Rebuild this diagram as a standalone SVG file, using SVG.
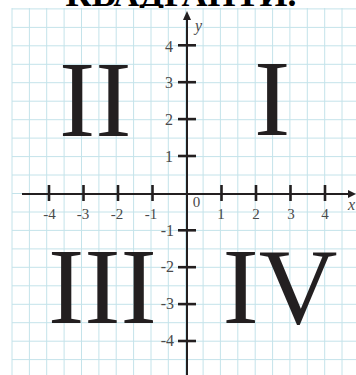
<svg xmlns="http://www.w3.org/2000/svg" width="356" height="375" viewBox="0 0 356 375">
<defs>
<style>
.grid line{stroke:#c4e3ea;stroke-width:1}
.axis{stroke:#231f20;stroke-width:2;fill:none}
.tick{stroke:#231f20;stroke-width:2.6}
.lbl{font-family:"Liberation Serif","Times New Roman",serif;font-size:15px;fill:#4a4a4a}
.ylbl{font-size:16px}
.var{font-family:"Liberation Serif","Times New Roman",serif;font-size:16px;font-style:italic;fill:#4a4a4a}
.quad{font-family:"Liberation Serif","Times New Roman",serif;font-size:109px;fill:#231f20}
.title{font-family:"Liberation Serif","Times New Roman",serif;font-size:36px;font-weight:bold;fill:#000}
</style>
<clipPath id="topclip"><rect x="0" y="0" width="356" height="8"/></clipPath>
</defs>
<rect width="356" height="375" fill="#fff"/>
<g id="grid" class="grid">
<line x1="12" y1="8" x2="12" y2="375"/><line x1="29.4" y1="8" x2="29.4" y2="375"/><line x1="46.7" y1="8" x2="46.7" y2="375"/><line x1="64.1" y1="8" x2="64.1" y2="375"/><line x1="81.5" y1="8" x2="81.5" y2="375"/><line x1="98.9" y1="8" x2="98.9" y2="375"/><line x1="116.2" y1="8" x2="116.2" y2="375"/><line x1="133.6" y1="8" x2="133.6" y2="375"/><line x1="151" y1="8" x2="151" y2="375"/><line x1="168.3" y1="8" x2="168.3" y2="375"/><line x1="185.7" y1="8" x2="185.7" y2="375"/><line x1="203.1" y1="8" x2="203.1" y2="375"/><line x1="220.4" y1="8" x2="220.4" y2="375"/><line x1="237.8" y1="8" x2="237.8" y2="375"/><line x1="255.2" y1="8" x2="255.2" y2="375"/><line x1="272.6" y1="8" x2="272.6" y2="375"/><line x1="289.9" y1="8" x2="289.9" y2="375"/><line x1="307.3" y1="8" x2="307.3" y2="375"/><line x1="324.7" y1="8" x2="324.7" y2="375"/><line x1="342" y1="8" x2="342" y2="375"/>
<line x1="12" y1="8.9" x2="356" y2="8.9"/><line x1="12" y1="27.4" x2="356" y2="27.4"/><line x1="12" y1="45.8" x2="356" y2="45.8"/><line x1="12" y1="64.3" x2="356" y2="64.3"/><line x1="12" y1="82.7" x2="356" y2="82.7"/><line x1="12" y1="101.2" x2="356" y2="101.2"/><line x1="12" y1="119.7" x2="356" y2="119.7"/><line x1="12" y1="138.1" x2="356" y2="138.1"/><line x1="12" y1="156.6" x2="356" y2="156.6"/><line x1="12" y1="175" x2="356" y2="175"/><line x1="12" y1="193.5" x2="356" y2="193.5"/><line x1="12" y1="212" x2="356" y2="212"/><line x1="12" y1="230.4" x2="356" y2="230.4"/><line x1="12" y1="248.9" x2="356" y2="248.9"/><line x1="12" y1="267.3" x2="356" y2="267.3"/><line x1="12" y1="285.8" x2="356" y2="285.8"/><line x1="12" y1="304.3" x2="356" y2="304.3"/><line x1="12" y1="322.7" x2="356" y2="322.7"/><line x1="12" y1="341.2" x2="356" y2="341.2"/><line x1="12" y1="359.6" x2="356" y2="359.6"/>
</g>
<text class="title" x="181" y="6" text-anchor="middle" clip-path="url(#topclip)">КВАДРАНТИ.</text>
<g id="axes">
<line class="axis" x1="22" y1="194" x2="349" y2="194"/>
<polygon points="356,194 348,190 348,198" fill="#231f20"/>
<line class="axis" x1="187" y1="19" x2="187" y2="375"/>
<polygon points="187,11 183,20 191,20" fill="#231f20"/>
</g>
<g id="ticks">
<line class="tick" x1="49" y1="185" x2="49" y2="201"/><line class="tick" x1="83.5" y1="185" x2="83.5" y2="201"/><line class="tick" x1="118" y1="185" x2="118" y2="201"/><line class="tick" x1="152.5" y1="185" x2="152.5" y2="201"/>
<line class="tick" x1="221.5" y1="185" x2="221.5" y2="201"/><line class="tick" x1="256" y1="185" x2="256" y2="201"/><line class="tick" x1="290.5" y1="185" x2="290.5" y2="201"/><line class="tick" x1="325" y1="185" x2="325" y2="201"/>
<line class="tick" x1="178" y1="45.3" x2="196" y2="45.3"/><line class="tick" x1="178" y1="82.2" x2="196" y2="82.2"/><line class="tick" x1="178" y1="119.1" x2="196" y2="119.1"/><line class="tick" x1="178" y1="156" x2="196" y2="156"/>
<line class="tick" x1="178" y1="230.3" x2="196" y2="230.3"/><line class="tick" x1="178" y1="267.2" x2="196" y2="267.2"/><line class="tick" x1="178" y1="304.1" x2="196" y2="304.1"/><line class="tick" x1="178" y1="341" x2="196" y2="341"/>
</g>
<g id="x-labels" text-anchor="middle">
<text class="lbl" x="49.5" y="218.5">-4</text><text class="lbl" x="83" y="218.5">-3</text><text class="lbl" x="117" y="218.5">-2</text><text class="lbl" x="151" y="218.5">-1</text>
<text class="lbl" x="196.5" y="207">0</text>
<text class="lbl" x="221" y="219">1</text><text class="lbl" x="256" y="219">2</text><text class="lbl" x="291" y="219">3</text><text class="lbl" x="325" y="219">4</text>
</g>
<g id="y-labels" text-anchor="end">
<text class="lbl ylbl" x="173" y="51.5">4</text><text class="lbl ylbl" x="173" y="88.3">3</text><text class="lbl ylbl" x="173" y="124.7">2</text><text class="lbl ylbl" x="173" y="161.7">1</text>
<text class="lbl ylbl" x="174" y="235.5">-1</text><text class="lbl ylbl" x="174" y="272">-2</text><text class="lbl ylbl" x="174" y="309">-3</text><text class="lbl ylbl" x="174" y="345.5">-4</text>
</g>
<text class="var" x="348" y="210">x</text>
<text class="var" x="195" y="31">y</text>
<g id="quadrant-II"><text class="quad" x="59" y="136">II</text></g>
<g id="quadrant-I"><text class="quad" x="254" y="134.5">I</text></g>
<g id="quadrant-III"><text class="quad" x="48" y="323">III</text></g>
<g id="quadrant-IV"><text class="quad" x="222.5" y="322.5">IV</text></g>
</svg>
